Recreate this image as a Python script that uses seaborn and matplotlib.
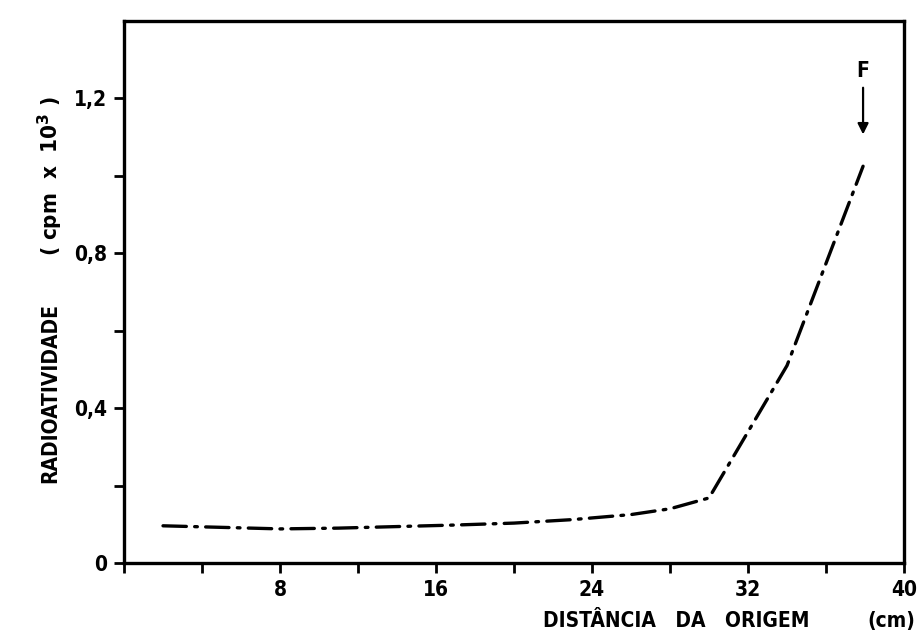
import matplotlib
matplotlib.use("Agg")
import matplotlib.pyplot as plt
import seaborn as sns
import pandas as pd

# Radioactivity along the strip, distance from origin (cm)
distancia = [2, 5, 8, 11, 14, 17, 20, 23, 26, 28, 30, 34, 37.9]
radioatividade = [0.096, 0.092, 0.088, 0.090, 0.094, 0.098, 0.103, 0.112,
                  0.125, 0.140, 0.168, 0.51, 1.025]

x_ticks = [0, 4, 8, 12, 16, 20, 24, 28, 32, 36, 40]
x_labels = ["", "", "8", "", "16", "", "24", "", "32", "", "40"]
y_ticks = [0, 0.2, 0.4, 0.6, 0.8, 1.0, 1.2]
y_labels = ["0", "", "0,4", "", "0,8", "", "1,2"]

front_x = 37.9
front_label = "F"

sns.set_theme(style="ticks")
plt.rcParams["font.family"] = ["DejaVu Sans"]
plt.rcParams["font.weight"] = "bold"
plt.rcParams["text.color"] = "black"
plt.rcParams["xtick.labelcolor"] = "black"
plt.rcParams["ytick.labelcolor"] = "black"

df = pd.DataFrame({"distancia": distancia, "radioatividade": radioatividade})

fig = plt.figure(figsize=(9.22, 6.39), dpi=100)
ax = fig.add_axes([0.1345, 0.119, 0.846, 0.848])

sns.lineplot(data=df, x="distancia", y="radioatividade", ax=ax,
             color="black", linewidth=2.4,
             linestyle=(0, (7, 2.5, 0.8, 2.5)), solid_capstyle="butt",
             dash_capstyle="round")

ax.set_xlim(0, 40)
ax.set_ylim(0, 1.4)
ax.set_xticks(x_ticks)
ax.set_xticklabels(x_labels)
ax.set_yticks(y_ticks)
ax.set_yticklabels(y_labels)

for side in ["left", "right", "top", "bottom"]:
    ax.spines[side].set_visible(True)
    ax.spines[side].set_linewidth(2.4)
    ax.spines[side].set_color("black")

ax.tick_params(axis="both", direction="out", length=7, width=2,
               color="black", labelcolor="black", labelsize=15, pad=5)
for lab in ax.get_xticklabels() + ax.get_yticklabels():
    lab.set_fontstretch("condensed")
    lab.set_fontweight("bold")

ax.set_xlabel("")
ax.set_ylabel("")

# Solvent front marker
ax.annotate("", xy=(front_x, 1.10), xytext=(front_x, 1.235),
            arrowprops=dict(arrowstyle="-|>", color="black", lw=1.6,
                            mutation_scale=16))
ax.text(front_x, 1.245, front_label, ha="center", va="bottom",
        fontsize=15, fontweight="bold", fontstretch="condensed",
        color="black")

# Axis titles
fig.text(0.878, 0.028, "DISTÂNCIA   DA   ORIGEM", ha="right", va="center",
         fontsize=15, fontweight="bold", fontstretch="condensed",
         color="black")
fig.text(0.993, 0.028, "(cm)", ha="right", va="center",
         fontsize=15, fontweight="bold", fontstretch="condensed",
         color="black")
fig.text(0.055, 0.385, "RADIOATIVIDADE", rotation=90, ha="center",
         va="center", fontsize=15, fontweight="bold",
         fontstretch="condensed", color="black")
fig.text(0.055, 0.725, "( cpm  x  10$^{3}$ )", rotation=90, ha="center",
         va="center", fontsize=16, fontweight="bold",
         fontstretch="condensed", color="black")

fig.savefig("out.png", dpi=100, facecolor="white")
